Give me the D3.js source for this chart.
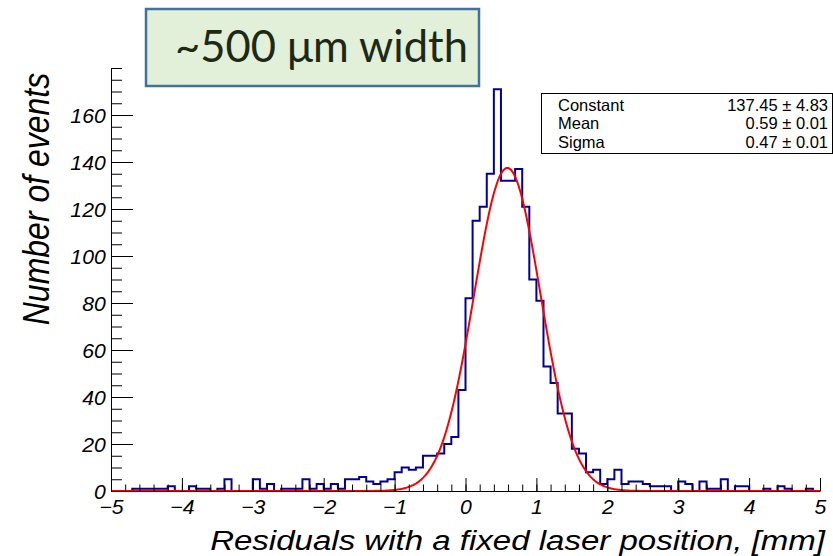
<!DOCTYPE html>
<html>
<head>
<meta charset="utf-8">
<script src="https://cdn.jsdelivr.net/npm/d3@7"></script>
<style>
  body { margin: 0; background: #fff; }
  svg { display: block; }
  .axis text { font-family: "Liberation Sans", Arial, sans-serif; font-style: italic; fill: #000; }
  .axis line, .axis path { stroke: #000; stroke-width: 1; }
</style>
</head>
<body>
<svg width="833" height="556"></svg>
<script>
// residual histogram: 100 bins of 0.1 mm from -5 to 5
var binLow = -5, binWidth = 0.1;
var counts = [
  0, 0, 0, 1, 1, 1, 1, 1, 2, 0,          // -5.0 .. -4.1
  0, 2, 1, 1, 0, 1, 5, 0, 0, 0,          // -4.0 .. -3.1
  5, 1, 3, 0, 1, 1, 1, 5, 1, 3,          // -3.0 .. -2.1
  1, 3, 1, 5, 5, 6, 4, 3, 4, 5,          // -2.0 .. -1.1
  8, 10, 9, 10, 15, 15, 16, 20, 23, 43,  // -1.0 .. -0.1
  82, 115, 121, 135, 171, 132, 132, 137, 121, 90, // 0.0 .. 0.9
  81, 53, 46, 33, 33, 18, 16, 8, 9, 3,   // 1.0 .. 1.9
  5, 9, 3, 4, 4, 3, 2, 2, 2, 0,          // 2.0 .. 2.9
  4, 3, 0, 4, 1, 1, 5, 0, 2, 2,          // 3.0 .. 3.9
  0, 0, 1, 0, 2, 1, 0, 0, 1, 0           // 4.0 .. 4.9
];

// gaussian fit results (stats box)
var fitNames = ["Constant", "Mean", "Sigma"];
var fitValues = [137.45, 0.59, 0.47];
var fitErrors = [4.83, 0.01, 0.01];

var xTicks = [-5, -4, -3, -2, -1, 0, 1, 2, 3, 4, 5];
var yTicks = [0, 20, 40, 60, 80, 100, 120, 140, 160];
var xTitle = "Residuals with a fixed laser position, [mm]";
var yTitle = "Number of events";
var boxTitle = "~500 \u03bcm width";

var svg = d3.select("svg");
var stretch = 1.18; // picture is wider than tall

var x = d3.scaleLinear().domain([-5, 5]).range([111, 820]);
var y = d3.scaleLinear().domain([0, 180]).range([491, 68]);

// histogram outline
var pts = [[binLow, 0]];
counts.forEach(function(c, i) { pts.push([binLow + i * binWidth, c]); });
pts.push([binLow + counts.length * binWidth, counts[counts.length - 1]]);
pts.push([binLow + counts.length * binWidth, 0]);

svg.append("path")
  .datum(pts)
  .attr("fill", "none")
  .attr("stroke", "#00009a")
  .attr("stroke-width", 2)
  .attr("d", d3.line()
    .x(function(d) { return x(d[0]); })
    .y(function(d) { return y(d[1]); })
    .curve(d3.curveStepAfter));

// fitted gaussian
function gaus(v) {
  var t = (v - fitValues[1]) / fitValues[2];
  return fitValues[0] * Math.exp(-0.5 * t * t);
}
svg.append("path")
  .datum(d3.range(-5, 5.0001, 0.01))
  .attr("fill", "none")
  .attr("stroke", "#ff0000")
  .attr("stroke-width", 2)
  .attr("d", d3.line()
    .x(function(d) { return x(d); })
    .y(function(d) { return y(gaus(d)); }));

// x axis
var gx = svg.append("g").attr("class", "axis").attr("transform", "translate(0,491)");
gx.append("g").call(d3.axisBottom(x)
    .tickValues(d3.range(-5, 5.001, 0.2)).tickSize(-6.5).tickFormat(""))
  .select(".domain").remove();
gx.append("g").call(d3.axisBottom(x)
    .tickValues(xTicks).tickSizeInner(-13).tickSizeOuter(0).tickFormat(d3.format("d")))
  .selectAll("text")
    .attr("y", 23).attr("dy", 0)
    .attr("transform", "scale(1.06,1)")
    .style("font-size", "20px");
gx.selectAll("text").attr("fill", "#000");

// y axis
var gy = svg.append("g").attr("class", "axis").attr("transform", "translate(111,0)");
gy.append("g").call(d3.axisLeft(y)
    .tickValues(d3.range(0, 181, 5)).tickSize(-11).tickFormat(""))
  .select(".domain").remove();
gy.append("g").call(d3.axisLeft(y)
    .tickValues(yTicks).tickSizeInner(-22).tickSizeOuter(0).tickFormat(d3.format("d")))
  .selectAll("text")
    .attr("x", -5).attr("dy", "0.35em")
    .attr("transform", "scale(1.06,1)")
    .style("font-size", "20px");
gy.selectAll("text").attr("fill", "#000");

// axis titles
svg.append("text")
  .attr("transform", "translate(825,550) scale(" + stretch + ",1)")
  .attr("text-anchor", "end")
  .style("font-family", "'Liberation Sans', Arial, sans-serif")
  .style("font-style", "italic")
  .style("font-size", "28px")
  .text(xTitle);

svg.append("text")
  .attr("transform", "translate(49,199) scale(" + stretch + ",1) rotate(-90)")
  .attr("text-anchor", "middle")
  .style("font-family", "'Liberation Sans', Arial, sans-serif")
  .style("font-style", "italic")
  .style("font-size", "32px")
  .text(yTitle);

// stats box
var stats = svg.append("g");
stats.append("rect")
  .attr("x", 541.5).attr("y", 93.5)
  .attr("width", 291).attr("height", 60)
  .attr("fill", "#fff").attr("stroke", "#000").attr("stroke-width", 1);
var rowY = d3.scalePoint().domain(fitNames).range([110.5, 147.5]);
stats.selectAll("text.name")
  .data(fitNames).enter().append("text")
    .attr("x", 558)
    .attr("y", function(d) { return rowY(d); })
    .style("font-family", "'Liberation Sans', Arial, sans-serif")
    .style("font-size", "16.5px")
    .text(function(d) { return d; });
stats.selectAll("text.val")
  .data(fitNames).enter().append("text")
    .attr("x", 828)
    .attr("y", function(d) { return rowY(d); })
    .attr("text-anchor", "end")
    .style("font-family", "'Liberation Sans', Arial, sans-serif")
    .style("font-size", "16.5px")
    .text(function(d, i) { return fitValues[i].toFixed(2) + " \u00b1 " + fitErrors[i].toFixed(2); });

// title box
svg.append("rect")
  .attr("x", 146).attr("y", 9)
  .attr("width", 333).attr("height", 77)
  .attr("fill", "#e2f0d9").attr("stroke", "#41719c").attr("stroke-width", 2.5);
var tt = svg.append("text")
  .attr("x", 175).attr("y", 62)
  .attr("fill", "#1c2914")
  .style("font-family", "Lato, 'Open Sans', sans-serif")
  .style("font-size", "40px")
  .text(boxTitle);
var len = tt.node().getComputedTextLength();
tt.style("font-size", (40 * 293 / len) + "px");
</script>
</body>
</html>
